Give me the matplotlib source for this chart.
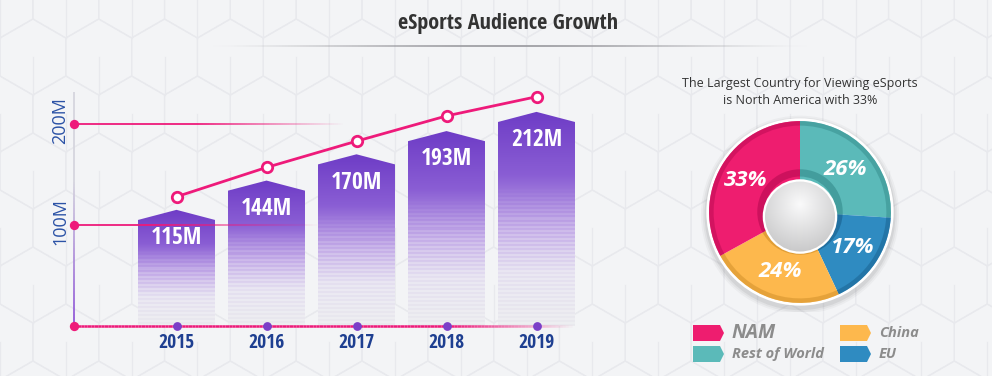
import matplotlib
matplotlib.use('Agg')
import matplotlib.pyplot as plt
import numpy as np
from matplotlib import font_manager
from matplotlib.patches import Polygon, Circle, RegularPolygon
from matplotlib.collections import LineCollection
from matplotlib.colors import to_rgb

# data
years = ['2015', '2016', '2017', '2018', '2019']
audience = [115, 144, 170, 193, 212]
trend = [128, 157, 183, 208, 227]
y_ticks = [0, 100, 200]
y_tick_labels = ['', '100M', '200M']

regions = ['Rest of World', 'EU', 'China', 'NAM']
shares = [26, 17, 24, 33]
region_colors = ['#5bbab9', '#2f8bc1', '#fdb84d', '#ee1d6f']
region_dark = ['#3f9898', '#1f6c9c', '#dc9a33', '#c8105a']
legend_order = ['NAM', 'China', 'Rest of World', 'EU']

installed = {f.name for f in font_manager.fontManager.ttflist}
cond = next((n for n in ['Open Sans Condensed', 'Roboto Condensed', 'Noto Sans Condensed',
                         'Liberation Sans Narrow', 'DejaVu Sans Condensed'] if n in installed), 'Roboto')

BG = '#f3f4f6'
PINK = '#ee1a7a'
PURPLE = '#7b3fc8'

fig = plt.figure(figsize=(9.92, 3.76), dpi=100, facecolor=BG)

# background layer in pixel coordinates
bg = fig.add_axes([0, 0, 1, 1], zorder=0)
bg.set_xlim(0, 992)
bg.set_ylim(376, 0)
bg.axis('off')
s = 38
w = np.sqrt(3) * s
for r in range(-1, 9):
    for c in range(-1, 17):
        cx = c * w + (w / 2 if r % 2 else 0)
        cy = r * 1.5 * s
        bg.add_patch(RegularPolygon((cx, cy), 6, radius=s, fill=False,
                                    ec='#e8e9ed', lw=0.9, zorder=0.5))
        bg.plot([cx, cx], [cy, cy + s], color='#e8e9ed', lw=0.9, zorder=0.5)

bg.text(508, 24, 'eSports Audience Growth', ha='center', va='center',
        fontsize=16, fontweight='bold', color='#333333', family=cond)
xs = np.linspace(210, 810, 200)
segs = [[(xs[i], 46), (xs[i + 1], 46)] for i in range(len(xs) - 1)]
a = np.sin(np.linspace(0, np.pi, len(segs))) ** 1.5
bg.add_collection(LineCollection(segs, colors=[(0.62, 0.62, 0.64, v) for v in a], lw=1.3))

bg.text(800, 83, 'The Largest Country for Viewing eSports', ha='center', va='center',
        fontsize=9, color='#333333', family='Open Sans')
bg.text(800, 101, 'is North America with 33%', ha='center', va='center',
        fontsize=9, color='#333333', family='Open Sans')

# legend
slots = {'NAM': (693, 333), 'China': (840, 333), 'Rest of World': (693, 354), 'EU': (840, 354)}
for name in legend_order:
    i = regions.index(name)
    x, y = slots[name]
    bg.add_patch(Polygon([(x, y - 8), (x + 27, y - 8), (x + 31, y), (x + 27, y + 8), (x, y + 8)],
                         closed=True, fc=region_colors[i], ec='none', zorder=3))
    big = shares[i] == max(shares)
    bg.text(x + 39, y, name, ha='left', va='center', fontsize=14 if big else 10.5,
            fontweight='bold', style='italic', color='#8c8c8c', family='Open Sans', zorder=3)

# bar chart
ax = fig.add_axes([74 / 992, 50 / 376, 506 / 992, 246 / 376], zorder=2)
ax.patch.set_alpha(0)
xpos = np.arange(len(years))
bw = 77 / 90
drop = 10

stops_t = [0, 0.3, 0.55, 0.75, 1.0]
stops_c = np.array([(110, 60, 198), (138, 94, 212), (196, 172, 232), (228, 223, 240), (234, 234, 238)]) / 255
for xc, v in zip(xpos, audience):
    x0, x1 = xc - bw / 2, xc + bw / 2
    poly = Polygon([(x0, 0), (x0, v - drop), (xc, v), (x1, v - drop), (x1, 0)], closed=True,
                   fc='none', ec='none')
    ax.add_patch(poly)
    n = int(v * 1.01)
    t = np.linspace(0, 1, n)
    img = np.ones((n, 1, 4))
    for k in range(3):
        img[:, 0, k] = np.interp(t, stops_t, stops_c[:, k])
    stripe = (np.arange(n) // 2) % 2 == 1
    mix = np.clip((t - 0.35) / 0.45, 0, 1) * 0.45 * stripe
    bgc = np.array(to_rgb(BG))
    for k in range(3):
        img[:, 0, k] = img[:, 0, k] * (1 - mix) + bgc[k] * mix
    im = ax.imshow(img, extent=(x0, x1, 0, v), origin='upper', aspect='auto',
                   interpolation='nearest', zorder=2)
    im.set_clip_path(poly)
    ax.text(xc, v - 28, f'{v}M', ha='center', va='center', color='white',
            fontsize=17, fontweight='bold', family=cond, zorder=5)

xl = (74 - 176.5) / 90


def fade_line(x_end, y, lw, hold):
    xx = np.linspace(xl, x_end, 150)
    sg = [[(xx[i], y), (xx[i + 1], y)] for i in range(len(xx) - 1)]
    f = np.linspace(0, 1, len(sg))
    al = np.clip(1 - (f - hold) / (1 - hold), 0, 1)
    rgb = to_rgb(PINK)
    ax.add_collection(LineCollection(sg, colors=[(*rgb, q) for q in al], lw=lw,
                                     zorder=3, clip_on=False))


fade_line((345 - 176.5) / 90, 200, 1.3, 0.45)
fade_line((320 - 176.5) / 90, 100, 1.3, 0.3)
fade_line((575 - 176.5) / 90, 0, 1.8, 0.75)

# vertical axis
yy = np.linspace(0, 231.7, 100)
vs = [[(xl, yy[i]), (xl, yy[i + 1])] for i in range(len(yy) - 1)]
c_bot, c_top = np.array(to_rgb('#8f55d8')), np.array(to_rgb('#d6d6de'))
fr = np.clip(np.linspace(0, 1, len(vs)) * 1.6, 0, 1)[:, None]
ax.add_collection(LineCollection(vs, colors=c_bot * (1 - fr) + c_top * fr, lw=1.3,
                                 zorder=3, clip_on=False))

ax.scatter([xl] * len(y_ticks), y_ticks, s=45, color=PINK, zorder=6, clip_on=False, lw=0)
for yt, lab in zip(y_ticks, y_tick_labels):
    ax.text((60 - 176.5) / 90, yt + 3, lab, rotation=90, ha='center', va='center',
            fontsize=13, color='#2b52a6', family='Open Sans', clip_on=False)

ax.scatter(xpos, [0] * len(xpos), s=40, color=PURPLE, zorder=6, clip_on=False, lw=0)
for xc, yr in zip(xpos, years):
    ax.text(xc, -17, yr, ha='center', va='center', fontsize=14, fontweight='bold',
            color='#1e3f91', family=cond, clip_on=False)

ax.plot(xpos, trend, color=PINK, lw=2, marker='o', ms=7.5, mfc='white', mec=PINK, mew=2,
        zorder=7, clip_on=False)

ax.set_xlim(xl, (580 - 176.5) / 90)
ax.set_ylim(0, 246 / 1.01)
ax.axis('off')

# donut chart
pax = fig.add_axes([700 / 992, 64 / 376, 200 / 992, 200 / 376], zorder=2)
pax.set_xlim(-1.1, 1.1)
pax.set_ylim(-1.1, 1.1)
pax.axis('off')
for rr, al in [(1.09, 0.03), (1.07, 0.04), (1.05, 0.06)]:
    pax.add_patch(Circle((0, -0.03), rr, color='black', alpha=al, lw=0))
pax.add_patch(Circle((0, 0), 1.03, color='white', lw=0))
pax.pie(shares, colors=region_colors, startangle=90, counterclock=False, radius=1,
        wedgeprops=dict(lw=0), autopct=lambda p: f'{p:.0f}%', pctdistance=0.69,
        textprops=dict(color='white', fontsize=16, fontweight='bold', style='italic',
                       family='Open Sans'))
pax.pie(shares, colors=region_dark, startangle=90, counterclock=False, radius=1,
        wedgeprops=dict(width=0.05, lw=0, alpha=0.7))
pax.pie(shares, colors=region_dark, startangle=90, counterclock=False, radius=0.47,
        wedgeprops=dict(width=0.08, lw=0, alpha=0.85))
for t in pax.texts:
    t.set_zorder(10)
pax.add_patch(Circle((0, -0.05), 0.41, color='white', lw=0, zorder=4))
ball = Circle((0, -0.05), 0.385, fc='none', ec='none', zorder=5)
pax.add_patch(ball)
gx, gy = np.meshgrid(np.linspace(-1, 1, 120), np.linspace(1, -1, 120))
dist = np.sqrt(gx ** 2 + (gy - 0.35) ** 2)
shade = np.clip(0.98 - 0.14 * dist, 0, 1)
gimg = np.dstack([shade, shade, shade + 0.003])
gim = pax.imshow(np.clip(gimg, 0, 1), extent=(-0.385, 0.385, -0.435, 0.335), zorder=5,
                 interpolation='bilinear')
gim.set_clip_path(ball)
pax.set_xlim(-1.1, 1.1)
pax.set_ylim(-1.1, 1.1)
pax.set_aspect('auto')

fig.savefig('out.png', dpi=100, facecolor=BG)
